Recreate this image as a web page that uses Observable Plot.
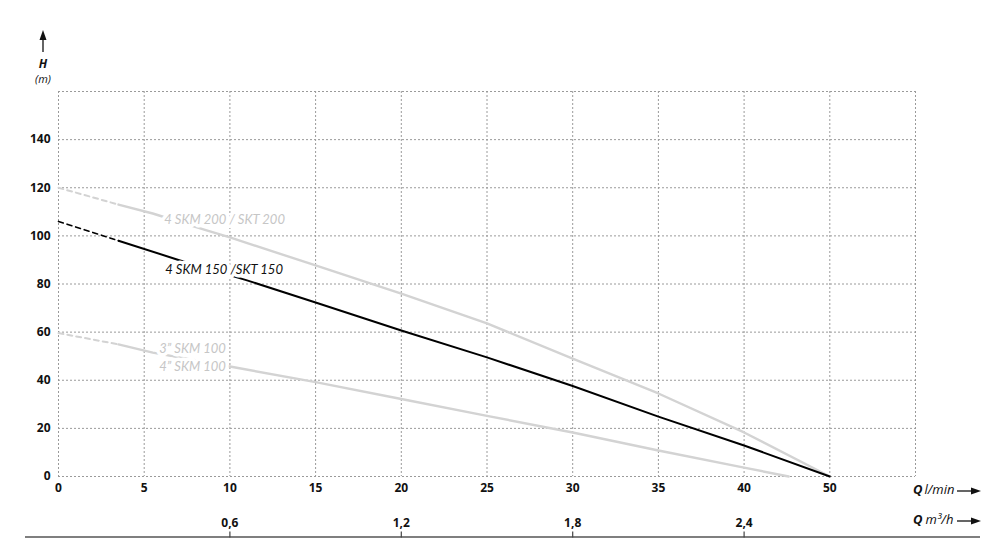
<!DOCTYPE html>
<html>
<head>
<meta charset="utf-8">
<script src="https://cdn.jsdelivr.net/npm/d3@7"></script>
<script src="https://cdn.jsdelivr.net/npm/@observablehq/plot@0.6"></script>
<style>
  html, body { margin: 0; padding: 0; background: #fff; }
  svg { display: block; }
</style>
</head>
<body>
<div id="chart"></div>
<script>
// ---- axes ----
const xGridValues = [0, 5, 10, 15, 20, 25, 30, 35, 40, 45, 50];
const xTickValues = [0, 5, 10, 15, 20, 25, 30, 35, 40, 45];
const xTickLabels = ["0", "5", "10", "15", "20", "25", "30", "35", "40", "50"];
const yGridValues = [0, 20, 40, 60, 80, 100, 120, 140, 160];
const yTickValues = [0, 20, 40, 60, 80, 100, 120, 140];
const m3hTicks = [0.6, 1.2, 1.8, 2.4];
const m3hLabels = ["0,6", "1,2", "1,8", "2,4"];
const lpmPerM3h = 1000 / 60;

// ---- series (Q in l/min grid units, H in m) ----
const skm200Q = [0, 3.5, 5.5, 8.5, 10, 15, 20, 25, 30, 35, 40, 45];
const skm200H = [120, 113, 109.3, 102.6, 99.4, 87.7, 76, 63.6, 49, 34.5, 18.3, 0];
const skm150Q = [0, 3.5, 7, 11, 15, 20, 25, 30, 35, 40, 45];
const skm150H = [106, 98, 90, 81.5, 72.3, 60.7, 49.5, 37.6, 24.9, 12.9, 0];
const skm100Q = [0, 3.5, 5.5, 10, 15, 20, 25, 30, 35, 40, 42.6];
const skm100H = [59.6, 54.9, 51.5, 45.7, 39.2, 32.2, 25.2, 18.3, 10.8, 3.7, 0];
const dashedUntilQ = 3.5;

// ---- series labels ----
const labelTexts = ["4 SKM 200 / SKT 200", "4 SKM 150 /SKT 150", "3\u201D SKM 100", "4\u201D SKM 100"];
const labelQ = [6.17, 6.23, 5.88, 5.88];
const labelH = [106.8, 86.0, 53.2, 45.7];
const labelSeries = ["200", "150", "100", "100"];

const seriesColor = {"200": "#d3d3d3", "150": "#000000", "100": "#d3d3d3"};
const labelColor = {"200": "#c6c6c6", "150": "#111111", "100": "#c6c6c6"};
const seriesWidth = {"200": 2.4, "150": 2, "100": 2.4};

const toRows = (name, Q, H) => Q.map((q, i) => ({series: name, Q: q, H: H[i]}));
const series = [
  toRows("200", skm200Q, skm200H),
  toRows("100", skm100Q, skm100H),
  toRows("150", skm150Q, skm150H)
];
const labels = labelTexts.map((t, i) => ({text: t, Q: labelQ[i], H: labelH[i], series: labelSeries[i]}));
const xLabel = new Map(xTickValues.map((v, i) => [v, xTickLabels[i]]));
const m3Label = new Map(m3hTicks.map((v, i) => [v * lpmPerM3h, m3hLabels[i]]));

const lineMarks = series.flatMap(rows => {
  const s = rows[0].series;
  return [
    Plot.line(rows.filter(d => d.Q <= dashedUntilQ), {x: "Q", y: "H", stroke: seriesColor[s], strokeWidth: seriesWidth[s] - 0.4, strokeDasharray: "5,4"}),
    Plot.line(rows.filter(d => d.Q >= dashedUntilQ), {x: "Q", y: "H", stroke: seriesColor[s], strokeWidth: seriesWidth[s]})
  ];
});

const chart = Plot.plot({
  width: 1000,
  height: 556,
  marginLeft: 58,
  marginRight: 85,
  marginTop: 91,
  marginBottom: 80,
  style: {fontFamily: "'Open Sans', sans-serif", background: "#fff", color: "#111"},
  x: {domain: [0, 50], label: null},
  y: {domain: [0, 160], label: null},
  marks: [
    Plot.ruleX(xGridValues, {stroke: "#9a9a9a", strokeWidth: 1, strokeDasharray: "2,2"}),
    Plot.ruleY(yGridValues, {stroke: "#9a9a9a", strokeWidth: 1, strokeDasharray: "2,2"}),
    Plot.axisY(yTickValues, {tickSize: 0, tickPadding: 8, fontWeight: "bold", fontSize: 12, label: null}),
    Plot.axisX(xTickValues, {tickSize: 0, tickPadding: 7, tickFormat: d => xLabel.get(d), fontWeight: "bold", fontSize: 12, label: null}),
    Plot.ruleY([0], {dy: 60.5, insetLeft: -33, insetRight: -65, stroke: "#555", strokeWidth: 1.5}),
    Plot.axisX(m3hTicks.map(v => v * lpmPerM3h), {anchor: "top", dy: 445.5, tickSize: 6, tickPadding: 4, stroke: "#444", strokeWidth: 1.2, tickFormat: d => m3Label.get(d), fontWeight: "bold", fontSize: 12, label: null}),
    ...lineMarks,
    Plot.text(labels, {x: "Q", y: "H", text: "text", textAnchor: "start", lineAnchor: "middle",
      fill: d => labelColor[d.series], stroke: "#fff", strokeWidth: 7,
      fontFamily: "Lato, 'Open Sans', sans-serif", fontStyle: "italic", fontSize: 13})
  ]
});

document.getElementById("chart").appendChild(chart);

// ---- axis titles and arrows ----
const svg = d3.select(chart);
const ann = svg.append("g").attr("font-family", "'Open Sans', sans-serif").attr("fill", "#111").attr("text-anchor", "start");

function arrowRight(x1, x2, y) {
  ann.append("line").attr("x1", x1).attr("x2", x2 - 7).attr("y1", y).attr("y2", y).attr("stroke", "#111").attr("stroke-width", 1.3);
  ann.append("path").attr("d", `M${x2},${y} L${x2 - 10},${y - 3.5} L${x2 - 10},${y + 3.5} Z`).attr("fill", "#111");
}
function arrowUp(x, y1, y2) {
  ann.append("line").attr("x1", x).attr("x2", x).attr("y1", y1).attr("y2", y2 + 7).attr("stroke", "#111").attr("stroke-width", 1.3);
  ann.append("path").attr("d", `M${x},${y2} L${x - 3.5},${y2 + 10} L${x + 3.5},${y2 + 10} Z`).attr("fill", "#111");
}

arrowUp(43, 52, 30);
ann.append("text").attr("x", 43).attr("y", 65).attr("text-anchor", "middle").attr("dominant-baseline", "middle")
  .attr("font-weight", "bold").attr("font-style", "italic").attr("font-size", 12).text("H");
ann.append("text").attr("x", 43).attr("y", 80).attr("text-anchor", "middle").attr("dominant-baseline", "middle")
  .attr("font-style", "italic").attr("font-size", 11).text("(m)");

const t1 = ann.append("text").attr("x", 913).attr("y", 491).attr("dominant-baseline", "middle").attr("font-size", 13);
t1.append("tspan").attr("font-weight", "bold").attr("font-style", "italic").text("Q");
t1.append("tspan").attr("font-style", "italic").attr("dx", 2).text("l/min");
arrowRight(957, 981, 491);

const t2 = ann.append("text").attr("x", 913).attr("y", 521).attr("dominant-baseline", "middle").attr("font-size", 13);
t2.append("tspan").attr("font-weight", "bold").attr("font-style", "italic").text("Q");
t2.append("tspan").attr("font-style", "italic").attr("dx", 3).text("m\u00B3/h");
arrowRight(957, 981, 521);
</script>
</body>
</html>
